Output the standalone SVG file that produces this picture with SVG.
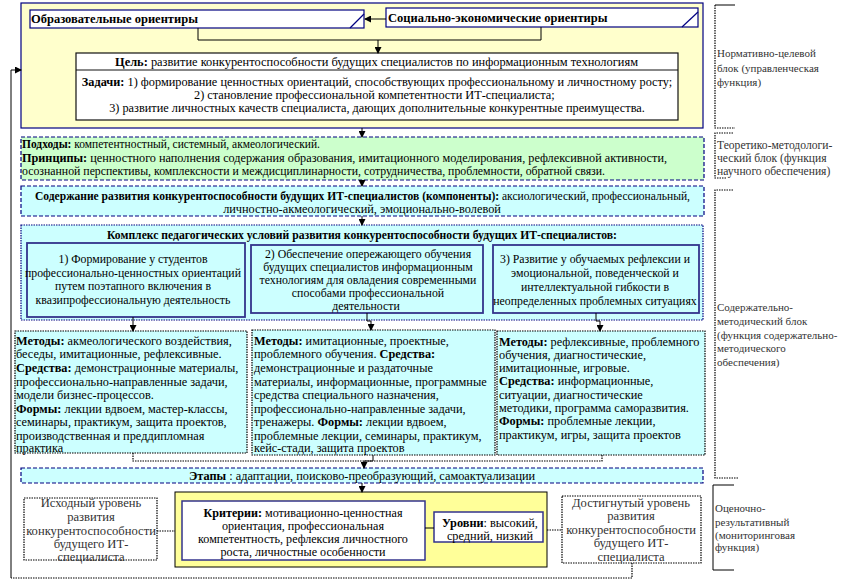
<svg xmlns="http://www.w3.org/2000/svg" width="860" height="588" viewBox="0 0 860 588">
<defs>
<marker id="ah" markerWidth="7" markerHeight="7" refX="6" refY="3.5" orient="auto" markerUnits="userSpaceOnUse"><path d="M0,0 L7,3.5 L0,7 z" fill="#000"/></marker>
<style>
.t{font-family:"Liberation Serif","Times New Roman",serif;font-size:12.3px;fill:#000}
.g{font-size:11.9px}
.c{font-size:11.8px}
.m{text-anchor:middle}
.b{font-weight:bold}
.s{font-family:"Liberation Serif","Times New Roman",serif;font-size:11px;fill:#333}
.lv{font-family:"Liberation Serif","Times New Roman",serif;font-size:12.6px;fill:#333;text-anchor:middle}
.ln{fill:none;stroke:#000;stroke-width:1}
.dl{fill:none;stroke:#000;stroke-width:1.2;stroke-dasharray:1.5 1}
.nv{stroke:#000080;stroke-width:1.2}
.dash{stroke-dasharray:4 2}
.dot{stroke-dasharray:1.5 1}
.inner{fill:#CCFFFF;stroke:#33338C;stroke-width:1.8}
.meth{fill:#CCFFFF;stroke:#000;stroke-width:1.2;stroke-dasharray:1.5 1}
</style>
</defs>
<rect width="860" height="588" fill="#fff"/>

<g id="block-normative">
<rect x="21" y="3" width="682" height="125" fill="#FFFFCC" class="nv"/>
</g>
<g id="edu-orient">
<rect x="30" y="10" width="334" height="18" fill="#fff" class="nv"/>
<line x1="350" y1="28" x2="364" y2="14" class="nv"/>
<text x="31" y="23" class="t b" style="font-size:12.5px">Образовательные ориентиры</text>
</g>
<g id="socio-orient">
<rect x="386" y="8" width="312" height="19" fill="#fff" class="nv"/>
<line x1="682" y1="27" x2="698" y2="12" class="nv"/>
<text x="388" y="22" class="t b" style="font-size:12.5px">Социально-экономические ориентиры</text>
</g>
<g id="goal">
<rect x="76" y="53" width="602" height="67" fill="#fff" stroke="#111" stroke-width="1.2"/>
<line x1="76" y1="70" x2="678" y2="70" stroke="#111" stroke-width="1"/>
<text x="115" y="65.5" class="t" style="font-size:13px" textLength="523" lengthAdjust="spacingAndGlyphs"><tspan class="b">Цель:</tspan> развитие конкурентоспособности будущих специалистов по информационным технологиям</text>
<text x="377" y="85.5" class="t m"><tspan class="b">Задачи:</tspan> 1) формирование ценностных ориентаций, способствующих профессиональному и личностному росту;</text>
<text x="194" y="98.5" class="t">2) становление профессиональной компетентности ИТ-специалиста;</text>
<text x="377" y="111.5" class="t m">3) развитие личностных качеств специалиста, дающих дополнительные конкурентные преимущества.</text>
</g>

<g id="approaches">
<rect x="21" y="137" width="683" height="43" fill="#CCFFCC" class="nv dash"/>
<text x="22" y="147.5" class="t g" textLength="298" lengthAdjust="spacingAndGlyphs"><tspan class="b">Подходы:</tspan> компетентностный, системный, акмеологический.</text>
<text x="22" y="161.5" class="t g" textLength="645" lengthAdjust="spacingAndGlyphs"><tspan class="b">Принципы:</tspan> ценностного наполнения содержания образования, имитационного моделирования, рефлексивной активности,</text>
<text x="22" y="174.5" class="t g" textLength="583" lengthAdjust="spacingAndGlyphs">осознанной перспективы, комплексности и междисциплинарности, сотрудничества, проблемности, обратной связи.</text>
</g>

<g id="content">
<rect x="21" y="186" width="683" height="30" fill="#CCFFFF" class="nv dash"/>
<text x="35" y="199.5" class="t" style="font-size:11.6px" textLength="655" lengthAdjust="spacingAndGlyphs"><tspan class="b">Содержание развития конкурентоспособности будущих ИТ-специалистов (компоненты):</tspan> аксиологический, профессиональный,</text>
<text x="362" y="213" class="t m">личностно-акмеологический, эмоционально-волевой</text>
</g>

<g id="complex">
<rect x="21" y="225" width="682" height="95" fill="#CCFFFF" class="nv dot"/>
<text x="107" y="238.5" class="t b" style="font-size:11.7px" textLength="510" lengthAdjust="spacingAndGlyphs">Комплекс педагогических условий развития конкурентоспособности будущих ИТ-специалистов:</text>
</g>
<g id="cond1">
<rect x="27" y="243" width="218" height="74" class="inner"/>
<text x="133" y="263" class="t c m">1) Формирование у студентов</text>
<text x="133" y="276.5" class="t c m">профессионально-ценностных ориентаций</text>
<text x="133" y="289.5" class="t c m">путем поэтапного включения в</text>
<text x="133" y="303.5" class="t c m">квазипрофессиональную деятельность</text>
</g>
<g id="cond2">
<rect x="251" y="245" width="232" height="68" class="inner"/>
<text x="368" y="257.5" class="t c m">2) Обеспечение опережающего обучения</text>
<text x="368" y="270.5" class="t c m">будущих специалистов информационным</text>
<text x="368" y="283.5" class="t c m">технологиям для овладения современными</text>
<text x="368" y="296.5" class="t c m">способами  профессиональной</text>
<text x="366" y="310" class="t c m">деятельности</text>
</g>
<g id="cond3">
<rect x="493" y="245" width="206" height="68" class="inner"/>
<text x="595" y="263" class="t c m">3) Развитие у обучаемых рефлексии и</text>
<text x="595" y="277" class="t c m">эмоциональной, поведенческой и</text>
<text x="595" y="291" class="t c m">интеллектуальной гибкости в</text>
<text x="595" y="305" class="t c m">неопределенных проблемных ситуациях</text>
</g>

<g id="methods1">
<rect x="15" y="331" width="232" height="122" class="meth"/>
<text x="16" y="344.5" class="t"><tspan class="b">Методы:</tspan> акмеологического воздействия,</text>
<text x="16" y="358" class="t">беседы, имитационные, рефлексивные.</text>
<text x="16" y="371.5" class="t"><tspan class="b">Средства:</tspan> демонстрационные материалы,</text>
<text x="16" y="385.5" class="t">профессионально-направленные задачи,</text>
<text x="16" y="398.5" class="t">модели бизнес-процессов.</text>
<text x="16" y="412.5" class="t"><tspan class="b">Формы:</tspan> лекции вдвоем, мастер-классы,</text>
<text x="16" y="425.5" class="t">семинары, практикум, защита проектов,</text>
<text x="16" y="439.5" class="t">производственная и преддипломная</text>
<text x="16" y="452" class="t">практика</text>
</g>
<g id="methods2">
<rect x="252" y="330" width="243" height="125" class="meth"/>
<text x="254" y="344.5" class="t"><tspan class="b">Методы:</tspan> имитационные, проектные,</text>
<text x="254" y="358" class="t">проблемного обучения. <tspan class="b">Средства:</tspan></text>
<text x="254" y="371.5" class="t">демонстрационные и раздаточные</text>
<text x="254" y="385.5" class="t">материалы, информационные, программные</text>
<text x="254" y="398.5" class="t">средства специального назначения,</text>
<text x="254" y="412.5" class="t">профессионально-направленные задачи,</text>
<text x="254" y="425.5" class="t">тренажеры. <tspan class="b">Формы:</tspan>  лекции вдвоем,</text>
<text x="254" y="439.5" class="t">проблемные лекции, семинары, практикум,</text>
<text x="254" y="452" class="t">кейс-стади, защита проектов</text>
</g>
<g id="methods3">
<rect x="497" y="331" width="208" height="124" class="meth"/>
<text x="499" y="345.5" class="t"><tspan class="b">Методы:</tspan> рефлексивные, проблемного</text>
<text x="499" y="358.8" class="t">обучения, диагностические,</text>
<text x="499" y="372.1" class="t">имитационные, игровые.</text>
<text x="499" y="385.4" class="t"><tspan class="b">Средства:</tspan> информационные,</text>
<text x="499" y="398.7" class="t">ситуации,  диагностические</text>
<text x="499" y="412" class="t">методики, программа саморазвития.</text>
<text x="499" y="425.3" class="t"><tspan class="b">Формы:</tspan> проблемные лекции,</text>
<text x="499" y="438.6" class="t">практикум, игры, защита проектов</text>
</g>

<g id="stages">
<rect x="21" y="468" width="682" height="15" fill="#CCFFFF" class="nv dash"/>
<text x="189" y="479.5" class="t"><tspan class="b">Этапы</tspan> : адаптации, поисково-преобразующий, самоактуализации</text>
</g>

<g id="evaluation">
<rect x="175" y="492" width="372" height="75" fill="#FFFF99" stroke="#000" stroke-width="1"/>
</g>
<g id="criteria">
<rect x="182" y="501" width="243" height="59" fill="#fff" stroke="#33338C" stroke-width="1.5"/>
<text x="303" y="516.5" class="t m" style="font-size:12.1px"><tspan class="b">Критерии:</tspan> мотивационно-ценностная</text>
<text x="303" y="529.5" class="t m" style="font-size:12.1px">ориентация, профессиональная</text>
<text x="303" y="542.5" class="t m" style="font-size:12.1px">компетентность, рефлексия личностного</text>
<text x="303" y="556" class="t m" style="font-size:12.1px">роста, личностные особенности</text>
</g>
<g id="levels">
<rect x="434" y="512" width="109" height="30" fill="#fff" stroke="#33338C" stroke-width="1.5"/>
<text x="490" y="526.5" class="t m"><tspan class="b">Уровни</tspan>: высокий,</text>
<text x="490" y="539.5" class="t m">средний, низкий</text>
</g>
<g id="initial-level">
<rect x="24" y="498" width="133" height="62" fill="#fff" class="dl"/>
<text x="91" y="507" class="lv">Исходный уровень</text>
<text x="91" y="520.5" class="lv">развития</text>
<text x="91" y="534.5" class="lv">конкурентоспособности</text>
<text x="91" y="547.5" class="lv">будущего ИТ-</text>
<text x="91" y="561" class="lv">специалиста</text>
</g>
<g id="achieved-level">
<rect x="562" y="496" width="139" height="67" fill="#fff" class="dl"/>
<text x="631" y="507" class="lv">Достигнутый уровень</text>
<text x="631" y="520" class="lv">развития</text>
<text x="631" y="534" class="lv">конкурентоспособности</text>
<text x="631" y="547" class="lv">будущего ИТ-</text>
<text x="631" y="561" class="lv">специалиста</text>
</g>

<g id="side-labels">
<path d="M735,5 H715" class="ln"/>
<path d="M715,5 V128 H735" class="dl"/>
<text x="717" y="57" class="s">Нормативно-целевой</text>
<text x="717" y="72" class="s">блок (управленческая</text>
<text x="717" y="86" class="s">функция)</text>
<path d="M733,133 H715 V178 H727" class="dl"/>
<text x="717" y="149" class="s" style="font-size:11.6px">Теоретико-методологи-</text>
<text x="717" y="162" class="s" style="font-size:11.6px">ческий блок (функция</text>
<text x="717" y="175" class="s" style="font-size:11.6px">научного обеспечения)</text>
<path d="M733,190 H715 V478 H738" class="dl"/>
<text x="717" y="311" class="s">Содержательно-</text>
<text x="717" y="325" class="s">методический блок</text>
<text x="717" y="339" class="s">(функция содержательно-</text>
<text x="717" y="352" class="s">методического</text>
<text x="717" y="366" class="s">обеспечения)</text>
<path d="M734,485 H713 V570 H734" class="ln"/>
<text x="715" y="512" class="s">Оценочно-</text>
<text x="715" y="526" class="s">результативный</text>
<text x="715" y="539" class="s">(мониторинговая</text>
<text x="715" y="551" class="s">функция)</text>
</g>

<g id="connectors">
<line x1="386" y1="19" x2="365" y2="19" class="ln" marker-end="url(#ah)"/>
<polyline points="198,28 198,40 541,40 541,27" class="ln"/>
<line x1="378" y1="40" x2="378" y2="53" class="ln" marker-end="url(#ah)"/>
<line x1="362" y1="128" x2="362" y2="137" class="ln" marker-end="url(#ah)"/>
<line x1="362" y1="180" x2="362" y2="186" class="ln" marker-end="url(#ah)"/>
<line x1="362" y1="216" x2="362" y2="225" class="ln" marker-end="url(#ah)"/>
<line x1="133" y1="317" x2="133" y2="331" class="ln" marker-end="url(#ah)"/>
<polyline points="367,313 367,321 371,321 371,330" class="ln" marker-end="url(#ah)"/>
<polyline points="596,313 596,321 600,321 600,331" class="ln" marker-end="url(#ah)"/>
<polyline points="133,453 133,461 373,461" class="dl"/>
<polyline points="602,455 602,461 373,461" class="dl"/>
<polyline points="373,455 373,461 364,461 364,468" class="ln" marker-end="url(#ah)"/>
<line x1="362" y1="483" x2="362" y2="492" class="ln" marker-end="url(#ah)"/>
<line x1="425" y1="528" x2="434" y2="528" class="ln"/>
<line x1="157" y1="531" x2="175" y2="531" class="dl"/>
<line x1="547" y1="530" x2="562" y2="530" class="dl"/>
<polyline points="632,563 632,578 11,578" class="dl"/>
<polyline points="11,578 11,70 21,70" class="ln" marker-end="url(#ah)"/>
</g>
</svg>
